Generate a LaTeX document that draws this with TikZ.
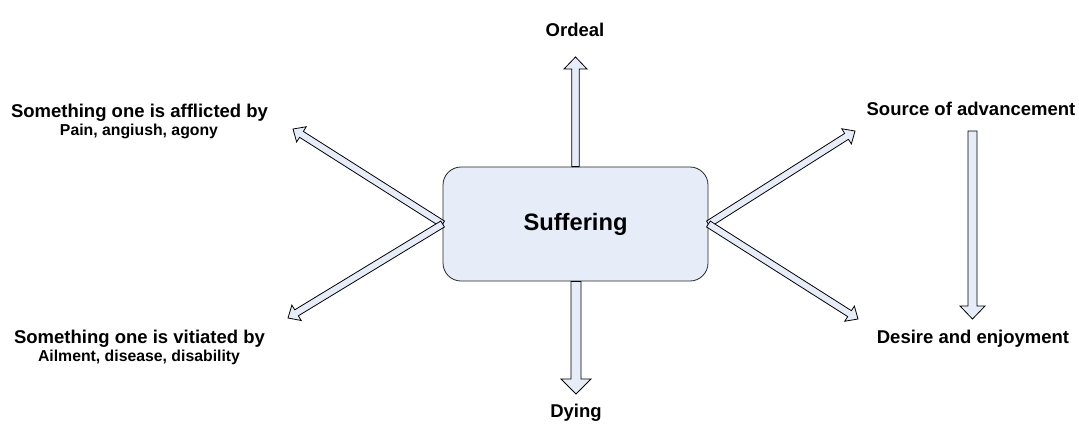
\documentclass[tikz,border=0pt]{standalone}
\usepackage{fontspec}
\setmainfont{Liberation Sans}
\usetikzlibrary{calc}

\definecolor{paleblue}{RGB}{230,236,248}

% hollow block arrow: start, tip, shaft half width, head half width, head length
\newcommand{\fatarrow}[5]{%
  \coordinate (hb) at ($(#2)!#5!(#1)$);
  \filldraw[blk] ($(#1)!#3!90:(#2)$) -- ($(hb)!#3!90:(#2)$) -- ($(hb)!#4!90:(#2)$) -- (#2)
    -- ($(hb)!#4!-90:(#2)$) -- ($(hb)!#3!-90:(#2)$) -- ($(#1)!#3!-90:(#2)$) -- cycle;
}

\begin{document}
\begin{tikzpicture}[x=1pt,y=-1pt,
    lbl/.style={anchor=base,font=\fontsize{18.5}{22}\selectfont\bfseries},
    sub/.style={anchor=base,font=\fontsize{15.8}{19}\selectfont\bfseries},
    blk/.style={fill=paleblue,draw=black,line width=0.8pt,line join=miter}]
\useasboundingbox (0,0) rectangle (1079,429);

\node[draw=black!85, fill=paleblue, rounded corners=18pt, minimum width=265pt, minimum height=114pt,
      line width=0.8pt, font=\fontsize{23.7}{28}\selectfont\bfseries] (suff) at (575.5,224) {Suffering};

% labels
\node[lbl] (ordeal) at (575,36) {Ordeal};
\node[lbl] (dying) at (576,417) {Dying};
\node[lbl] (afflict) at (139.5,117) {Something one is afflicted by};
\node[sub] (pain) at (139,135) {Pain, angiush, agony};
\node[lbl] (vitiate) at (139.5,343) {Something one is vitiated by};
\node[sub] (ailment) at (139,361) {Ailment, disease, disability};
\node[lbl] (advance) at (971,115) {Source of advancement};
\node[lbl] (desire) at (973,343) {Desire and enjoyment};

% arrow tips
\coordinate (tipnw) at (293,129);
\coordinate (tipsw) at (288,318);
\coordinate (tipne) at (855,131);
\coordinate (tipse) at (858,319);
\coordinate (tipup) at (575.5,57);
\coordinate (tipdn) at (576,394);
\coordinate (advlow) at (972.5,131);
\coordinate (deshigh) at (972.5,319);

\fatarrow{suff.north}{tipup}{3.8pt}{11.5pt}{12pt}
\fatarrow{suff.south -| tipdn}{tipdn}{5pt}{15pt}{15pt}
\fatarrow{suff.west}{tipnw}{3.5pt}{9pt}{10pt}
\fatarrow{suff.west}{tipsw}{3.5pt}{9pt}{10pt}
\fatarrow{suff.east}{tipne}{3.5pt}{9pt}{10pt}
\fatarrow{suff.east}{tipse}{3.5pt}{9pt}{10pt}
\fatarrow{advlow}{deshigh}{4.5pt}{12.5pt}{13pt}
\end{tikzpicture}
\end{document}
